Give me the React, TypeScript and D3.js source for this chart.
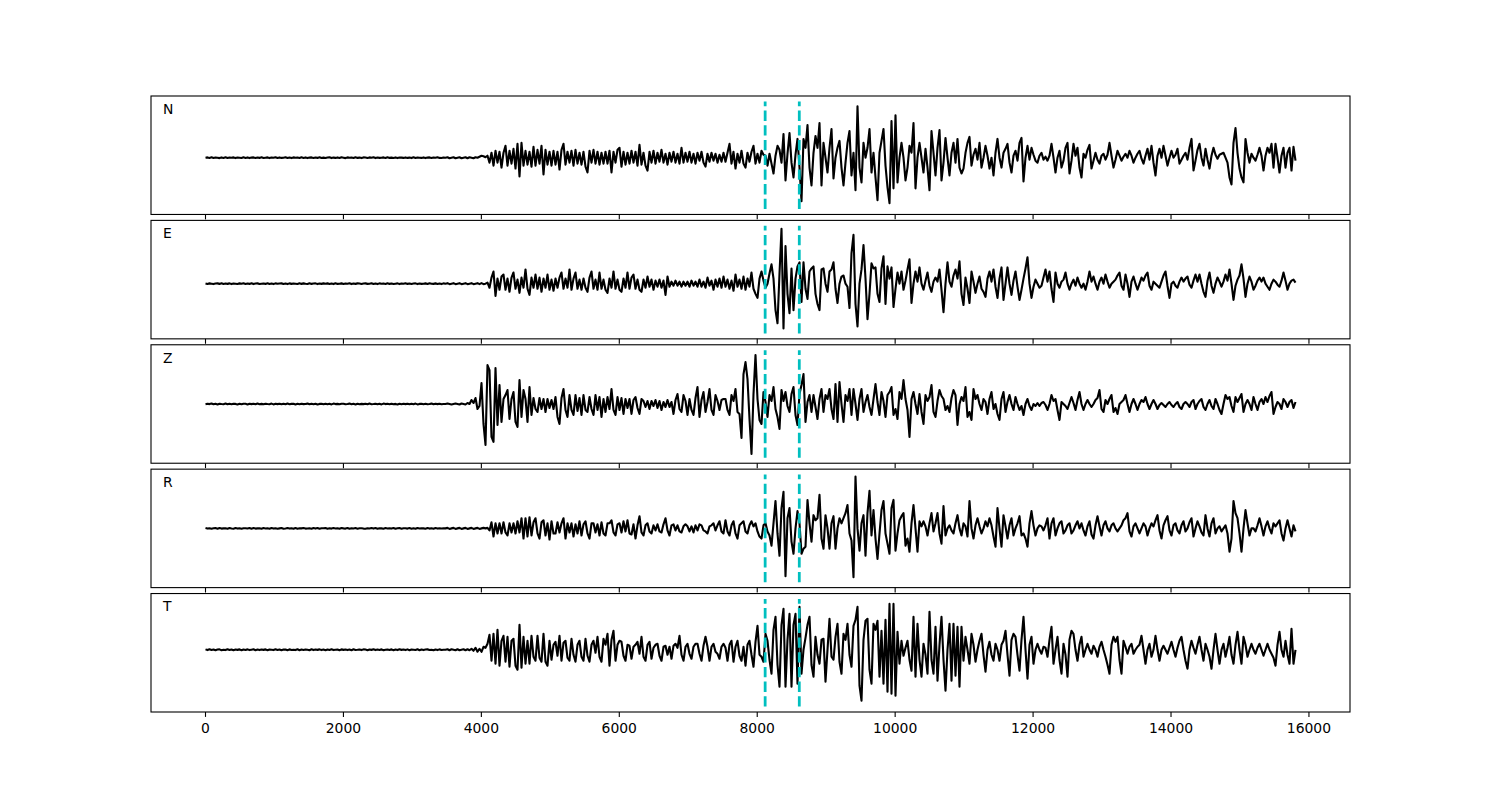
import React from "react";
import * as d3 from "d3";

// sample spacing of the stored traces (x-axis units = samples)
const DT = 29;
const channelNames = ["N", "E", "Z", "R", "T"];
const pickTimes = [8115, 8610];
const xTickValues = [0, 2000, 4000, 6000, 8000, 10000, 12000, 14000, 16000];
// amplitude extents of the dashed pick markers per channel
const pickLow = [-52, -49, -54, -53, -57];
const pickHigh = [57, 57, 54, 53, 51];

const N_trace = [
  0,0.3,-0.2,0.4,-0.3,0.2,0,-0.4,0.3,-0.2,0.4,-0.3,0.2,-0.1,0.3,-0.4,0.2,0,-0.3,0.4,
  -0.2,0.3,-0.4,0.1,0.3,-0.3,0.2,-0.2,0.4,-0.3,0,0.3,-0.4,0.2,-0.1,0.4,-0.3,0.3,-0.2,0,
  0.4,-0.3,0.2,-0.4,0.3,-0.1,0.2,-0.3,0.4,-0.2,0.3,-0.4,0.1,0.3,-0.3,0.2,-0.2,0.4,-0.3,0.1,
  -0.3,0.2,0.4,-0.4,0.1,-0.2,0.3,-0.3,0.4,0,-0.4,0.3,-0.1,0.2,-0.3,0.4,-0.2,0.1,-0.4,0.3,
  0.2,-0.3,0.3,-0.1,0.4,-0.4,0.2,-0.2,0,0.3,-0.3,0.4,-0.2,0.1,-0.3,0.3,-0.4,0.2,0.1,-0.2,
  0.3,-0.2,0.1,-0.4,0.4,-0.3,0.2,0,-0.2,0.3,-0.4,0.1,0.3,-0.3,0.2,-0.1,0.4,-0.2,-0.3,0.2,
  0,0.5,-0.5,0,0.5,-0.5,0,0.5,-0.5,0,0.5,-0.5,0.5,0,-0.5,0.5,0,1,2,1.5,
  0.5,2,-5,5,-8,7,-5,6,-10,5,12,-8,7,-6,9,-11,14,-19,15,-8,
  7,-7,6,-9,11,-8,8,-6,12,-17,8,-7,6,-8,7,-7,6,-12,8,14,
  -7,6,-5,7,-8,8,-6,5,-7,6,-9,-15,7,-5,8,-6,6,-7,5,-6,
  6,-6,7,-15,6,-5,8,10,-9,6,-7,5,-6,7,-5,6,-8,13,-7,5,
  -8,-13,6,-5,7,-6,5,-4,8,-5,4,-7,5,-4,6,-5,4,-6,10,-5,
  5,-4,6,-5,4,-6,5,-3,6,-5,-9,4,-4,5,-3,4,-5,3,-4,5,
  -4,5,14,-6,6,-11,4,-5,7,-6,-10,5,-4,6,12,-6,4,-5,7,3,
  2,-8,4,-6,-16,2,12,8,-5,24,-23,4,25,-5,-20,3,19,-10,-44,19,
  10,33,-10,-28,5,22,10,35,-28,15,0,-15,10,29,-21,0,10,17,-10,-28,
  -5,15,27,-18,5,-33,52,-10,-25,15,0,10,29,-15,5,-20,-43,5,17,29,
  -8,-30,-46,37,-31,43,-25,0,15,0,-23,-10,12,5,35,-31,0,15,0,-15,
  9,-10,-33,27,5,-18,10,28,-23,-5,20,0,-18,5,15,-5,19,-10,-16,-11,
  5,15,21,-8,3,9,-2,15,-10,0,12,2,-11,0,-18,5,19,0,-10,5,
  9,14,-5,-15,2,7,-3,15,20,-24,0,12,-2,10,3,-3,-5,2,5,-2,
  1,-3,2,14,0,-15,0,7,-10,-3,10,15,-16,-3,14,2,10,-10,-20,4,
  0,8,13,-11,-3,5,-2,-6,2,4,-2,3,15,2,-10,-2,7,2,-3,1,
  4,0,7,2,-5,0,4,7,-1,-6,2,9,-2,12,-5,-18,2,9,0,12,
  2,-8,0,7,0,3,9,-6,-2,2,5,-2,10,19,-13,-3,8,14,0,-8,
  9,-2,-11,2,10,3,-1,3,4,5,0,-5,-20,-27,15,30,5,-11,-20,-25,
  19,5,-5,4,0,-3,3,10,2,-13,2,10,5,14,-10,14,0,-15,2,10,
  -10,5,10,-13,11,-3,
];

const E_trace = [
  0.2,-0.3,0.3,0,-0.4,0.2,0.3,-0.2,0.4,-0.3,0.1,-0.2,0.3,-0.4,0.2,0,-0.3,0.3,-0.1,0.4,
  -0.3,0.2,-0.2,0.4,-0.4,0.1,0.3,-0.3,0,0.2,-0.2,0.4,-0.3,0.1,-0.4,0.3,-0.1,0.2,0.3,-0.3,
  0.1,-0.4,0.3,-0.2,0.2,0,-0.3,0.4,-0.2,0.3,-0.1,-0.3,0.4,-0.2,0.1,0.3,-0.4,0.2,-0.2,0.3,
  -0.1,0.3,-0.3,0.2,-0.4,0.4,-0.2,0,0.3,-0.3,0.2,-0.1,0.4,-0.4,0.2,-0.2,0.3,0.1,-0.3,0.2,
  0.3,-0.2,0,0.4,-0.3,0.2,-0.4,0.3,-0.1,0.1,-0.3,0.4,-0.2,0.2,-0.3,0,0.3,-0.4,0.2,-0.1,
  0.4,-0.2,0.2,-0.3,0.1,0.3,-0.4,0.2,-0.2,0,0.3,-0.3,0.4,-0.1,-0.2,0.3,-0.3,0.2,-0.4,0.3,
  0,0.5,-0.5,0,0.5,-0.5,0,0.5,-0.5,0,0.5,-0.5,0,0.5,-0.5,0,0.5,-0.5,0.5,-0.5,
  0,1,-4,6,12,-12,5,-6,7,9,-6,5,-8,6,11,-5,4,-9,6,-4,
  14,-5,-11,6,-4,9,-5,6,-8,5,-4,9,-6,4,-7,5,-4,6,11,-5,
  5,-4,14,-6,5,11,-5,4,-6,5,-4,-8,6,12,-5,4,-6,11,-5,4,
  -6,-9,5,-4,12,-5,4,-6,-8,5,-4,11,-5,6,9,-5,4,-6,-8,4,
  -4,7,-3,4,-6,3,-3,4,-4,3,-11,7,-3,2,-2,3,-2,2,-3,2,
  -2,2,-3,3,-2,2,-3,4,-3,2,-4,6,-2,3,-6,4,-3,5,-4,7,
  -3,4,-5,3,-7,9,-3,4,-5,7,-6,5,-3,11,-5,-10,-14,5,12,3,
  -4,0,10,19,5,-26,-39,10,54,-44,37,-10,-29,15,-26,5,17,21,-18,21,
  -5,-15,12,15,17,-10,-20,-26,14,15,0,-8,12,14,21,-5,-19,0,7,8,
  0,-3,-24,30,48,-20,-42,0,14,38,5,-35,-10,20,15,16,-10,-18,15,27,
  -20,17,5,16,-23,-5,11,0,12,-6,3,14,24,-19,0,12,2,16,0,-6,
  3,11,-2,-8,2,6,2,14,-6,-28,0,21,2,-3,8,14,5,22,-10,-21,
  6,-5,-19,12,2,-9,0,7,-5,-8,-13,5,12,2,14,-3,-14,5,16,-16,
  0,16,0,-11,3,12,-3,-16,-6,5,15,26,0,-14,-3,4,0,-4,-2,6,
  14,2,12,-5,-18,11,0,-4,2,4,11,0,-6,0,4,-2,6,0,-4,0,
  -6,2,12,2,7,0,-6,2,6,0,9,2,-4,0,2,4,8,11,-2,-6,
  9,0,-13,2,7,0,-6,0,6,3,8,11,-2,-6,2,0,-2,-4,2,8,
  12,-2,-14,0,2,-2,-4,2,6,2,5,7,-1,-4,3,9,2,9,0,-8,
  -13,3,11,-2,-9,0,6,2,-3,2,9,3,14,0,-16,-2,4,8,19,5,
  -13,0,7,2,-6,-2,3,6,2,6,0,-3,-6,0,4,2,-1,-3,3,11,
  3,-6,0,3,4,1,
];

const Z_trace = [
  -0.2,0.3,-0.1,0.4,-0.3,0.2,-0.4,0.3,0,-0.2,0.4,-0.3,0.2,-0.2,0.3,0.1,-0.4,0.2,-0.3,0.3,
  0.2,-0.4,0.3,-0.1,0.2,-0.3,0.4,-0.2,0.1,-0.3,0.3,0,-0.2,0.4,-0.4,0.2,-0.1,0.3,-0.3,0.2,
  -0.3,0.4,-0.2,0.1,0.3,-0.4,0.2,-0.2,0.3,-0.1,0,0.4,-0.3,0.2,-0.2,0.3,-0.4,0.1,0.2,-0.3,
  0.3,-0.2,0.2,-0.4,0.4,-0.1,0.1,-0.3,0.2,0.3,-0.3,0,0.4,-0.2,0.2,-0.4,0.3,-0.2,0.1,-0.1,
  0.2,-0.3,0.4,-0.2,0,0.3,-0.3,0.2,-0.4,0.4,-0.1,0.2,-0.2,0.3,-0.3,0.1,-0.4,0.3,-0.2,0.2,
  -0.1,0.3,-0.3,0.2,-0.2,0.4,-0.4,0.1,0.3,-0.2,0.2,-0.3,0,0.4,-0.3,0.2,-0.1,0.3,-0.2,0,
  0,0.5,0,-0.5,0,0.5,0,-0.5,0.5,0,-0.5,1,0,4,1,6,-5,-2,21,-20,
  -41,39,34,-33,-38,36,-21,19,-18,5,9,14,-15,5,12,-18,-23,24,-13,14,
  5,-18,17,-11,6,-5,-8,6,-5,5,-8,5,-4,4,-5,7,-13,-20,6,15,
  -6,-13,9,-6,-11,9,-7,6,-11,9,-6,-8,7,-5,-11,9,-6,7,-13,5,
  -8,7,-5,15,-6,-11,7,-6,6,-10,5,-4,5,-10,4,7,-4,-10,5,3,
  -3,3,-5,3,-2,4,-4,3,-6,2,-3,4,-3,2,-10,4,10,-5,-8,9,
  3,-11,5,-6,-11,6,17,-13,4,12,-8,2,15,-6,-11,9,3,-6,4,5,
  5,-6,-11,9,3,15,-8,-10,-34,30,42,25,-15,-50,10,49,5,-16,-20,12,
  2,-13,9,3,17,-5,-13,-25,14,3,12,-2,-8,10,17,-11,-21,10,19,30,
  -18,2,9,-8,9,-3,-15,5,15,-8,9,5,15,-5,-15,20,-18,22,0,-18,
  9,3,15,-11,15,0,-16,5,15,-8,2,9,-3,-11,5,20,2,-11,12,3,
  -13,9,12,17,-11,-5,-15,12,5,24,5,-6,-33,5,12,0,-10,10,-8,-20,
  9,3,7,19,-8,-13,3,14,8,5,-6,-2,-8,6,14,9,-21,0,7,3,
  17,-13,-8,-16,15,5,9,0,-6,5,2,-10,5,12,-5,0,-10,-16,5,12,
  -8,2,9,0,-6,7,0,-6,-2,-11,0,5,-2,-6,0,-2,1,-2,1,2,
  -1,-6,0,9,3,5,-6,-16,2,0,-2,-5,1,7,1,-6,4,12,0,-6,
  0,4,0,-3,0,4,6,14,-5,-8,4,0,5,9,-8,-4,-10,0,2,4,
  9,0,-8,0,5,0,-6,0,4,2,7,0,-5,0,4,0,-5,-1,1,-1,
  -3,0,2,-1,-3,0,2,-3,-5,0,2,0,-3,2,4,-5,0,3,5,-3,
  -6,0,4,-2,-5,5,0,-6,-10,0,9,5,7,-2,-8,7,2,6,10,-8,
  0,4,0,-6,7,0,-6,2,5,0,7,2,8,12,-10,-3,2,0,-5,5,
  2,-3,2,4,-4,2,
];

const R_trace = [
  0.3,-0.2,0.2,-0.4,0.1,0.3,-0.3,0.4,-0.2,0,0.2,-0.3,0.4,-0.1,-0.3,0.3,-0.2,0.2,-0.4,0.1,
  0.2,-0.1,0.4,-0.3,0.3,-0.2,0,0.2,-0.4,0.3,-0.1,0.1,-0.3,0.4,-0.2,0.2,-0.3,0,0.3,-0.4,
  -0.1,0.3,-0.2,0.2,-0.4,0.4,-0.3,0.1,0,0.3,-0.2,-0.1,0.2,-0.3,0.4,-0.2,0.3,-0.4,0.1,0.2,
  0.4,-0.3,0.1,-0.2,0.3,-0.1,0.2,-0.4,0.3,0,-0.2,0.4,-0.3,0.2,-0.1,0.3,-0.3,0.1,0.2,-0.2,
  -0.3,0.2,-0.1,0.4,-0.2,0.3,-0.4,0.2,0,-0.3,0.3,-0.1,0.2,-0.2,0.4,-0.4,0.1,0.3,-0.3,0.2,
  0.1,-0.2,0.3,-0.3,0.2,-0.4,0.4,-0.1,0.2,0,-0.3,0.3,-0.2,0.1,-0.4,0.3,-0.2,0.2,-0.1,0,
  0,0.5,-0.5,0,0.5,-0.5,0,0.5,-0.5,0,0.5,-0.5,0,0.5,-0.5,0,0.5,-0.5,0,0.5,
  0,0.5,-2,6,-8,5,-5,5,-5,6,-4,-7,5,-4,5,-5,7,-4,10,-10,
  10,-8,11,-7,6,10,-5,-10,6,8,-7,5,-11,7,-5,-5,6,-4,5,10,
  -10,5,-4,5,-8,4,-5,7,-7,4,7,-5,-10,5,5,-4,4,-7,6,-5,
  -7,5,5,8,-4,-7,4,5,-4,7,-3,8,-5,-6,4,-10,3,12,-4,-7,
  3,5,-3,-5,3,-2,4,-3,-4,4,10,-2,-7,3,4,-2,3,-3,-4,2,
  4,2,-3,2,-4,3,-2,4,3,-2,-3,-5,2,3,5,-2,3,7,-3,-5,
  8,-3,-7,3,7,-5,-10,3,5,7,-3,-5,3,7,2,5,-3,-8,-10,3,
  5,-3,-7,-17,5,27,-5,-27,20,36,-47,10,20,-13,-25,0,17,5,-25,-20,
  -18,28,5,-13,13,8,10,33,-10,-20,13,0,-20,5,12,-20,0,10,5,10,
  15,23,-5,-12,-48,51,0,-22,5,13,-27,15,37,-7,18,-10,-30,-5,18,27,
  -5,-15,-25,20,28,-22,-5,8,12,15,-17,-10,-23,5,23,0,-23,7,2,7,
  2,-7,5,15,-3,5,15,-5,-15,22,-7,0,3,-2,-5,5,13,0,-7,5,
  2,-8,27,0,-10,3,10,2,-5,0,7,2,10,3,-8,-18,20,0,-18,13,
  2,-10,3,10,-7,0,5,12,-7,-5,-10,-18,5,17,3,-7,0,3,2,-2,
  3,10,-10,5,10,-7,0,5,7,-5,-2,3,5,-5,-2,3,7,0,5,-2,
  -7,2,7,-6,-10,3,12,2,-7,3,7,0,-3,3,5,0,-3,0,3,8,
  10,15,-3,-8,2,5,0,-5,0,5,2,-7,0,5,2,8,13,-2,-10,3,
  8,12,-2,-7,3,5,-2,-5,3,7,-3,0,6,10,-8,0,7,2,-4,-7,
  13,0,-8,5,10,-5,0,2,-3,0,3,-5,-23,-10,27,15,10,-5,-23,0,
  18,5,-7,0,0,-3,3,10,2,-7,2,7,0,-5,5,2,5,8,-5,-12,
  0,8,0,-8,3,-3,
];

const T_trace = [
  0.4,-0.3,0.5,-0.2,0.3,-0.5,0.2,0.4,-0.4,0.1,-0.3,0.5,-0.2,0.3,-0.4,0.2,-0.1,0.4,-0.5,0.3,
  -0.2,0.4,-0.3,0.1,0.5,-0.4,0.2,-0.3,0.3,-0.1,0.4,-0.5,0.2,0,-0.3,0.5,-0.2,0.3,-0.4,0.2,
  0.3,-0.5,0.4,-0.2,0.1,-0.3,0.5,-0.4,0.2,-0.2,0.3,0,-0.4,0.5,-0.3,0.2,-0.1,0.4,-0.3,0.2,
  -0.4,0.3,-0.2,0.5,-0.3,0.1,0.2,-0.5,0.4,-0.1,0.3,-0.3,0.2,-0.4,0.5,-0.2,0,0.3,-0.3,0.4,
  0.2,-0.4,0.3,-0.1,0.5,-0.3,0.2,-0.2,0.4,-0.5,0.1,0.3,-0.2,0.4,-0.4,0.2,-0.3,0.5,-0.1,0.2,
  -0.3,0.4,-0.5,0.2,0.1,-0.2,0.5,-0.4,0.3,-0.3,0.2,0.4,-0.2,0.1,-0.5,0.3,-0.3,0.4,-0.2,0.1,
  0,0.5,-0.5,0.5,0,-0.5,0.5,-0.5,0,0.5,-0.5,0.5,-0.5,1,-1,2,-2,1,-2,3,
  2,6,15,-11,16,-14,20,-16,9,14,-12,13,-17,9,11,-16,-20,25,-18,13,
  -14,9,-14,14,-7,-11,14,-8,-12,16,-12,-16,9,-10,5,8,-6,14,-11,7,
  9,-8,-11,11,-5,-12,5,9,-7,-11,11,-6,-12,5,9,-3,13,-7,-12,11,
  5,16,-16,10,19,-11,5,9,8,-6,-11,5,4,-9,3,5,8,-4,13,-7,
  -11,5,8,-9,2,5,6,-6,-11,3,4,-5,3,-9,4,6,2,14,-5,-11,
  3,6,-4,-9,3,6,6,-4,-11,4,13,3,-11,3,6,-2,-4,-9,3,6,
  2,-11,5,9,-12,3,9,-6,-11,3,-16,5,9,-5,-17,8,24,-5,-7,-12,
  16,9,-10,-24,20,33,-15,-37,25,41,-37,10,36,-37,25,36,-34,43,-24,0,
  12,25,33,-15,-27,13,-5,-14,10,11,-32,0,31,-7,-10,13,26,-12,-24,16,
  10,26,-5,-17,24,30,43,-36,-51,10,29,31,-20,-34,26,20,29,-27,19,-34,
  30,-42,46,-44,46,-46,18,-14,9,-6,2,9,-10,-21,33,-27,26,-10,-27,6,
  -5,-24,38,-10,-24,23,-31,5,33,-10,-41,0,26,-31,26,-26,23,-37,23,-11,
  13,0,-14,16,5,-12,0,9,16,-5,-22,0,8,-5,-11,6,0,-11,5,9,
  19,-5,-26,10,16,13,-5,-21,10,33,0,-29,5,13,-14,0,6,0,-4,3,
  2,-7,10,23,-14,0,13,-10,-24,6,-5,-27,10,19,16,0,-11,5,13,-7,
  0,6,0,-4,4,0,-7,3,8,0,-7,-15,-24,5,13,8,13,-10,-24,9,
  3,-4,3,6,-4,0,3,5,14,0,-14,0,6,-7,0,14,0,-11,0,4,
  0,-4,2,8,0,-7,2,9,13,0,-11,-19,0,9,2,-4,5,13,0,-11,
  6,0,-7,-19,0,16,0,-14,0,6,-7,2,13,-5,-14,5,18,0,-14,13,
  5,-7,0,6,0,-4,2,6,0,-6,0,6,0,-4,-8,-16,5,18,0,-7,
  9,-5,-14,21,-14,0,
];

const traces = [N_trace, E_trace, Z_trace, R_trace, T_trace];

export default function App() {
  const W = 1500;
  const H = 800;
  const left = 151;
  const right = 1350;
  const top = 96;
  const bottom = 712;
  const hspace = 0.05;
  const n = traces.length;
  const ph = (bottom - top) / (n + (n - 1) * hspace);
  const tMax = (d3.max(traces, (t) => t.length)! - 1) * DT;
  const x = d3
    .scaleLinear()
    .domain([-0.05 * tMax, 1.05 * tMax])
    .range([left, right]);
  const fs = 13.9;

  return (
    <svg
      width={W}
      height={H}
      style={{ position: "absolute", left: 0, top: 0, background: "#fff" }}
      fontFamily="DejaVu Sans, sans-serif"
    >
      <rect x={0} y={0} width={W} height={H} fill="#fff" />
      {traces.map((tr, k) => {
        const y0 = top + k * ph * (1 + hspace);
        const lo = Math.min(d3.min(tr)!, pickLow[k]);
        const hi = Math.max(d3.max(tr)!, pickHigh[k]);
        const pad = 0.05 * (hi - lo);
        const y = d3
          .scaleLinear()
          .domain([lo - pad, hi + pad])
          .range([y0 + ph, y0]);
        const line = d3
          .line<number>()
          .x((_, i) => x(i * DT))
          .y((d) => y(d));
        return (
          <g key={k}>
            <path
              d={line(tr) || ""}
              fill="none"
              stroke="#000"
              strokeWidth={2.1}
              strokeLinejoin="round"
            />
            {pickTimes.map((p, j) => (
              <line
                key={j}
                x1={x(p)}
                x2={x(p)}
                y1={y(pickLow[k])}
                y2={y(pickHigh[k])}
                stroke="#00bfbf"
                strokeWidth={2.78}
                strokeDasharray="10.3 4.4"
              />
            ))}
            <rect
              x={left}
              y={y0}
              width={right - left}
              height={ph}
              fill="none"
              stroke="#000"
              strokeWidth={1.1}
            />
            {xTickValues.map((v) => (
              <line
                key={v}
                x1={x(v)}
                x2={x(v)}
                y1={y0 + ph}
                y2={y0 + ph + 4.9}
                stroke="#000"
                strokeWidth={1.1}
              />
            ))}
            <text x={left + 0.01 * (right - left)} y={y0 + 0.15 * ph} fontSize={fs} fill="#000">
              {channelNames[k]}
            </text>
            {k === n - 1 &&
              xTickValues.map((v) => (
                <text
                  key={"l" + v}
                  x={x(v)}
                  y={y0 + ph + 21}
                  textAnchor="middle"
                  fontSize={fs}
                  fill="#000"
                >
                  {String(v)}
                </text>
              ))}
          </g>
        );
      })}
    </svg>
  );
}
